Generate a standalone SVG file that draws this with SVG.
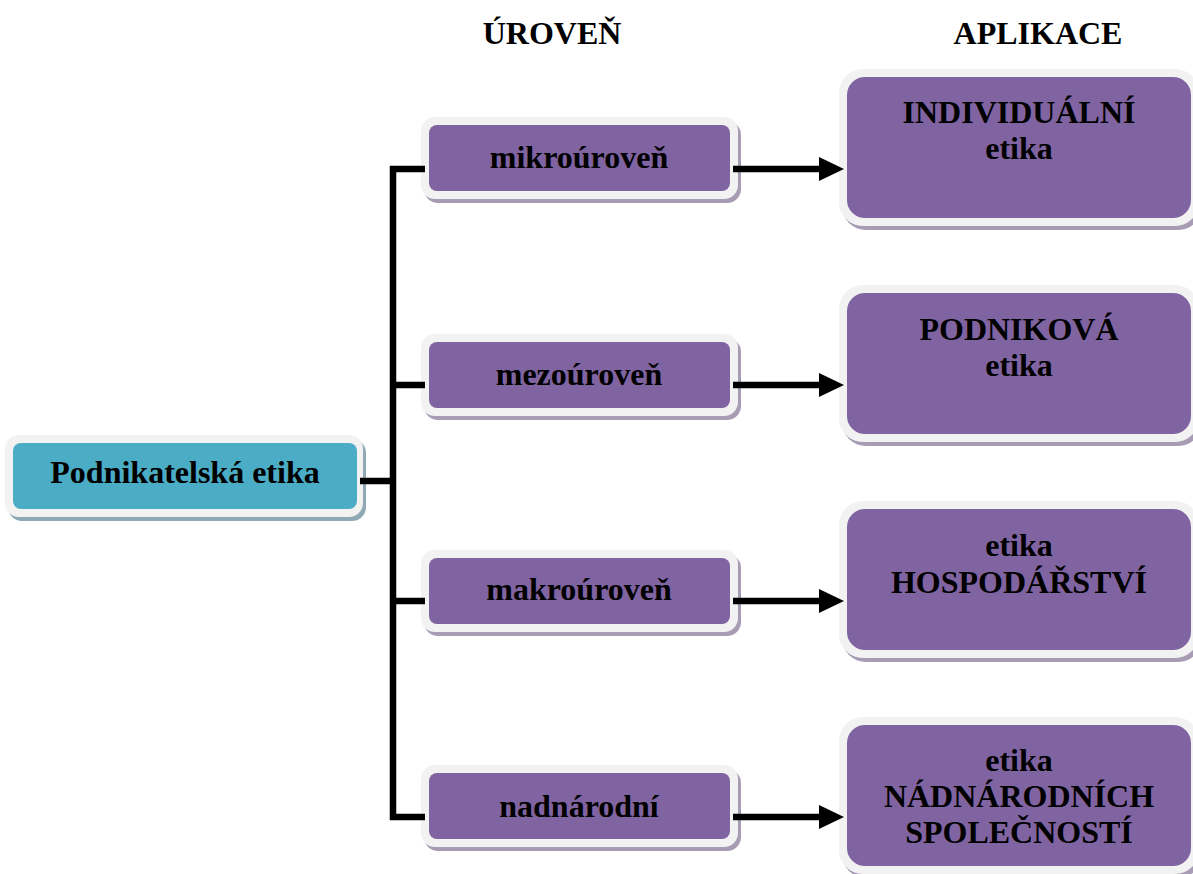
<svg xmlns="http://www.w3.org/2000/svg" width="1193" height="874" viewBox="0 0 1193 874">
<defs>
<style>
text{font-family:"Liberation Serif","Times New Roman",serif;font-weight:bold;font-size:32px;fill:#000;text-anchor:middle}
.frame{fill:#f2f2f2}
.shp{fill:#a69cb3}
.sht{fill:#8fa9b4}
.purple{fill:#8064a2}
.teal{fill:#4bacc6}
.ln{fill:none;stroke:#000;stroke-width:6.5;stroke-linejoin:miter}
</style>
<marker id="ah" markerUnits="userSpaceOnUse" markerWidth="26" markerHeight="26" refX="0" refY="12" orient="auto" viewBox="0 0 26 24">
<polygon points="0,0 25,12 0,24" fill="#000"/>
</marker>
</defs>
<rect width="1193" height="874" fill="#fff"/>

<text x="552" y="44">ÚROVEŇ</text>
<text x="1038" y="44">APLIKACE</text>

<g id="root">
<rect class="sht" x="8" y="439" width="358" height="82" rx="14"/>
<rect class="frame" x="5" y="435" width="358" height="82" rx="14"/>
<rect class="teal" x="13" y="443" width="344" height="66" rx="8"/>
<text x="185" y="483">Podnikatelská etika</text>
</g>

<g id="mikro">
<rect class="shp" x="424" y="121" width="317" height="82" rx="14"/>
<rect class="frame" x="421" y="117" width="317" height="82" rx="14"/>
<rect class="purple" x="429" y="125" width="301" height="66" rx="8"/>
<text x="579" y="168">mikroúroveň</text>
</g>

<g id="mezo">
<rect class="shp" x="424" y="338" width="317" height="82" rx="14"/>
<rect class="frame" x="421" y="334" width="317" height="82" rx="14"/>
<rect class="purple" x="429" y="342" width="301" height="66" rx="8"/>
<text x="579" y="385">mezoúroveň</text>
</g>

<g id="makro">
<rect class="shp" x="424" y="554" width="317" height="82" rx="14"/>
<rect class="frame" x="421" y="550" width="317" height="82" rx="14"/>
<rect class="purple" x="429" y="558" width="301" height="66" rx="8"/>
<text x="579" y="600">makroúroveň</text>
</g>

<g id="nadnarodni">
<rect class="shp" x="424" y="769" width="317" height="82" rx="14"/>
<rect class="frame" x="421" y="765" width="317" height="82" rx="14"/>
<rect class="purple" x="429" y="773" width="301" height="66" rx="8"/>
<text x="579" y="817">nadnárodní</text>
</g>

<g id="individualni">
<rect class="shp" x="842" y="73" width="360" height="157" rx="24"/>
<rect class="frame" x="839" y="69" width="360" height="157" rx="24"/>
<rect class="purple" x="847" y="77" width="344" height="141" rx="18"/>
<text x="1019" y="123">INDIVIDUÁLNÍ</text>
<text x="1019" y="159">etika</text>
</g>

<g id="podnikova">
<rect class="shp" x="842" y="289" width="360" height="157" rx="24"/>
<rect class="frame" x="839" y="285" width="360" height="157" rx="24"/>
<rect class="purple" x="847" y="293" width="344" height="141" rx="18"/>
<text x="1019" y="340">PODNIKOVÁ</text>
<text x="1019" y="376">etika</text>
</g>

<g id="hospodarstvi">
<rect class="shp" x="842" y="505" width="360" height="157" rx="24"/>
<rect class="frame" x="839" y="501" width="360" height="157" rx="24"/>
<rect class="purple" x="847" y="509" width="344" height="141" rx="18"/>
<text x="1019" y="556">etika</text>
<text x="1019" y="593">HOSPODÁŘSTVÍ</text>
</g>

<g id="nadnarodnich">
<rect class="shp" x="842" y="721" width="360" height="157" rx="24"/>
<rect class="frame" x="839" y="717" width="360" height="157" rx="24"/>
<rect class="purple" x="847" y="725" width="344" height="141" rx="18"/>
<text x="1019" y="771">etika</text>
<text x="1019" y="807">NÁDNÁRODNÍCH</text>
<text x="1019" y="843">SPOLEČNOSTÍ</text>
</g>

<g id="connectors">
<polyline class="ln" points="425,169 393,169 393,817 425,817"/>
<line class="ln" x1="393" y1="385" x2="425" y2="385"/>
<line class="ln" x1="393" y1="601" x2="425" y2="601"/>
<line class="ln" x1="360" y1="481" x2="393" y2="481"/>
<line class="ln" x1="733" y1="169" x2="819" y2="169" marker-end="url(#ah)"/>
<line class="ln" x1="733" y1="385" x2="819" y2="385" marker-end="url(#ah)"/>
<line class="ln" x1="733" y1="601" x2="819" y2="601" marker-end="url(#ah)"/>
<line class="ln" x1="733" y1="817" x2="819" y2="817" marker-end="url(#ah)"/>
</g>
</svg>
